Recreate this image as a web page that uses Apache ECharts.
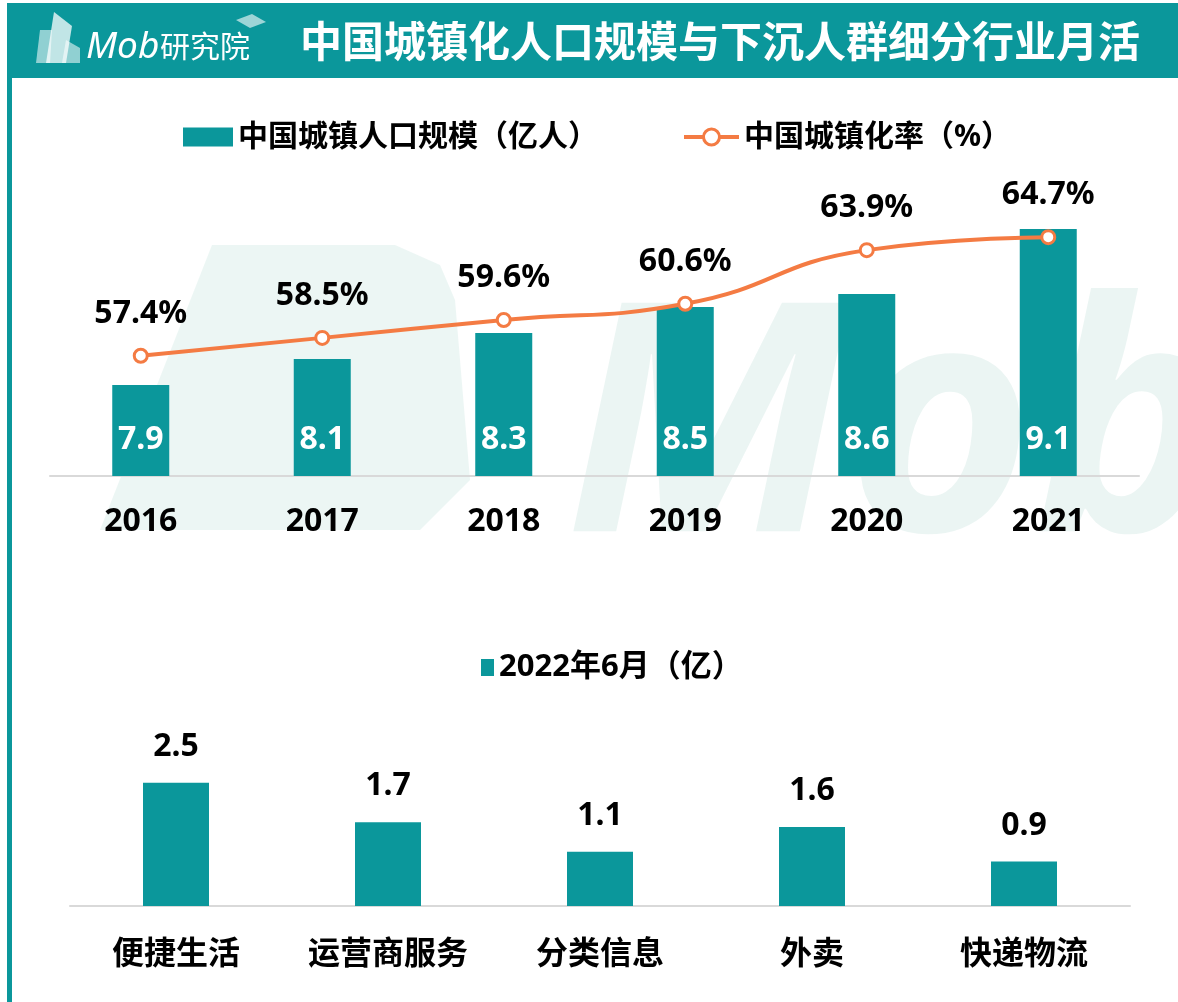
<!DOCTYPE html>
<html>
<head>
<meta charset="utf-8">
<script src="https://cdn.jsdelivr.net/npm/echarts@6/dist/echarts.min.js"></script>
<style>
html,body{margin:0;padding:0;background:#fff;}
#main{width:1178px;height:1002px;}
</style>
</head>
<body>
<div id="main"></div>
<script>
// ---- data ----
const years = ['2016', '2017', '2018', '2019', '2020', '2021'];
const urbanPop = [7.9, 8.1, 8.3, 8.5, 8.6, 9.1];          // 中国城镇人口规模（亿人）
const urbanRate = [57.4, 58.5, 59.6, 60.6, 63.9, 64.7];   // 中国城镇化率（%）
const industries = ['便捷生活', '运营商服务', '分类信息', '外卖', '快递物流'];
const mau202206 = [2.5, 1.7, 1.1, 1.6, 0.9];               // 2022年6月（亿）

const TEAL = '#0b979b';
const ORANGE = '#f47b43';
const FF = "'Noto Sans', 'Noto Sans CJK SC', sans-serif";
const WM = '#e4f2ef';

const chart = echarts.init(document.getElementById('main'), null, {renderer: 'canvas'});

const option = {
  animation: false,
  backgroundColor: '#ffffff',
  textStyle: {fontFamily: FF},
  graphic: [
    // header band
    {type: 'rect', z: 0, shape: {x: 7, y: 3, width: 1171, height: 75}, style: {fill: TEAL}},
    // left border
    {type: 'rect', z: 0, shape: {x: 7, y: 78, width: 5, height: 924}, style: {fill: TEAL}},
    // header logo icon
    {type: 'polygon', z: 1, shape: {points: [[36, 63], [40, 30], [52, 30], [50, 63]]}, style: {fill: 'rgba(255,255,255,0.55)'}},
    {type: 'polygon', z: 1, shape: {points: [[46, 63], [54, 12], [72, 26], [66, 63]]}, style: {fill: 'rgba(255,255,255,0.75)'}},
    {type: 'polygon', z: 1, shape: {points: [[62, 63], [66, 40], [80, 48], [80, 63]]}, style: {fill: 'rgba(255,255,255,0.55)'}},
    {type: 'polygon', z: 1, shape: {points: [[236, 20], [252, 14], [266, 22], [250, 28]]}, style: {fill: 'rgba(255,255,255,0.6)'}},
    {type: 'text', z: 1, style: {x: 86, y: 47, text: 'Mob', fill: '#ffffff', fontSize: 37, fontStyle: 'italic', fontFamily: FF, verticalAlign: 'middle'}},
    {type: 'text', z: 1, style: {x: 160, y: 48, text: '研究院', fill: '#ffffff', fontSize: 30, fontFamily: FF, verticalAlign: 'middle'}},
    // title
    {type: 'text', z: 1, style: {x: 300, y: 45, text: '中国城镇化人口规模与下沉人群细分行业月活', fill: '#ffffff', fontSize: 42, fontWeight: 'bold', fontFamily: FF, verticalAlign: 'middle'}},
    // watermark
    {type: 'polygon', z: -1, shape: {points: [[100, 530], [212, 245], [395, 245], [440, 265], [455, 300], [470, 480], [420, 530]]}, style: {fill: WM, opacity: 0.7}},
    {type: 'text', z: -1, style: {x: 565, y: 440, text: 'Mob', fill: WM, opacity: 0.75, fontSize: 320, fontStyle: 'italic', fontWeight: 'bold', fontFamily: FF, verticalAlign: 'middle'}}
  ],
  legend: [
    {
      data: [{name: '中国城镇人口规模（亿人）', icon: 'rect'}],
      left: 178, top: 117,
      itemWidth: 50, itemHeight: 19, itemGap: 8,
      textStyle: {fontSize: 30, fontWeight: 'bold', color: '#000', fontFamily: FF}
    },
    {
      data: [{name: '中国城镇化率（%）', itemStyle: {borderWidth: 3}, lineStyle: {width: 4}}],
      left: 677, top: 117,
      itemWidth: 55, itemHeight: 20,
      textStyle: {fontSize: 30, fontWeight: 'bold', color: '#000', fontFamily: FF}
    },
    {
      data: [{name: '2022年6月（亿）', icon: 'rect'}],
      left: 476, top: 647,
      itemWidth: 13, itemHeight: 17,
      textStyle: {fontSize: 31, fontWeight: 'bold', color: '#000', fontFamily: FF}
    }
  ],
  grid: [
    {left: 50, right: 39, top: 151, height: 325},
    {left: 70, right: 48, top: 758, height: 148}
  ],
  xAxis: [
    {
      type: 'category', gridIndex: 0, data: years,
      axisLine: {lineStyle: {color: '#d9d9d9', width: 2}},
      axisTick: {show: false},
      axisLabel: {margin: 30, fontSize: 32, fontWeight: 'bold', color: '#000', fontFamily: FF}
    },
    {
      type: 'category', gridIndex: 1, data: industries,
      axisLine: {lineStyle: {color: '#d9d9d9', width: 2}},
      axisTick: {show: false},
      axisLabel: {margin: 33, fontSize: 32, fontWeight: 'bold', color: '#000', fontFamily: FF}
    }
  ],
  yAxis: [
    {type: 'value', gridIndex: 0, min: 7.2, max: 9.7, show: false},
    {type: 'value', gridIndex: 0, min: 50, max: 70, show: false},
    {type: 'value', gridIndex: 1, min: 0, max: 3, show: false}
  ],
  series: [
    {
      name: '中国城镇人口规模（亿人）', type: 'bar', xAxisIndex: 0, yAxisIndex: 0,
      data: urbanPop, barWidth: 57, z: 2,
      itemStyle: {color: TEAL},
      label: {show: true, position: 'insideBottom', distance: 20, color: '#fff', fontSize: 32, fontWeight: 'bold', fontFamily: FF}
    },
    {
      name: '中国城镇化率（%）', type: 'line', xAxisIndex: 0, yAxisIndex: 1,
      data: urbanRate, smooth: 0.5, z: 3,
      lineStyle: {color: ORANGE, width: 4},
      itemStyle: {color: '#fff', borderColor: ORANGE, borderWidth: 3},
      symbol: 'circle', symbolSize: 13,
      label: {show: true, position: 'top', distance: 18, formatter: '{c}%', color: '#000', fontSize: 32, fontWeight: 'bold', fontFamily: FF}
    },
    {
      name: '2022年6月（亿）', type: 'bar', xAxisIndex: 1, yAxisIndex: 2,
      data: mau202206, barWidth: 66,
      itemStyle: {color: TEAL},
      label: {show: true, position: 'top', distance: 20, color: '#000', fontSize: 32, fontWeight: 'bold', fontFamily: FF}
    }
  ]
};
chart.setOption(option);
</script>
</body>
</html>
